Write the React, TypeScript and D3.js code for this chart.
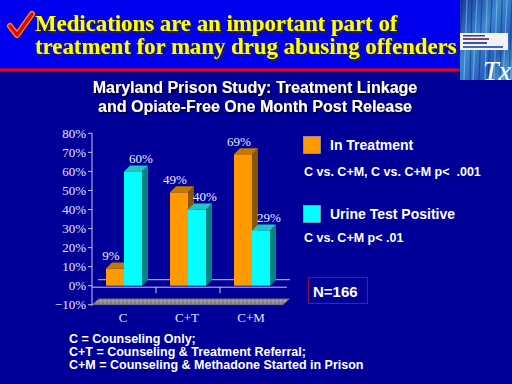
import React from 'react';
import * as d3 from 'd3';

const categories = ['C', 'C+T', 'C+M'];
const seriesNames = ['In Treatment', 'Urine Test Positive'];
const inTreatment = [0.09, 0.49, 0.69];
const urinePositive = [0.6, 0.4, 0.29];
const yTicks = [-0.1, 0, 0.1, 0.2, 0.3, 0.4, 0.5, 0.6, 0.7, 0.8];
const titleLines = ['Medications are an important part of', 'treatment for many drug abusing offenders'];
const chartTitle = ['Maryland Prison Study: Treatment Linkage', 'and Opiate-Free One Month Post Release'];
const legendNotes = ['C vs. C+M, C vs. C+M p<  .001', 'C vs. C+M p< .01'];
const footnotes = ['C = Counseling Only;', 'C+T = Counseling & Treatment Referral;', 'C+M = Counseling & Methadone Started in Prison'];

const colors = [
  { front: '#ff9900', top: '#c27a00', side: '#8a5500' },
  { front: '#00ffff', top: '#22c4c4', side: '#008484' },
];

const DX = 6;
const DY = -6;
const sans = 'Liberation Sans, Arial, sans-serif';
const serif = 'Liberation Serif, Times New Roman, serif';

const App: React.FC = () => {
  const y = d3.scaleLinear().domain([-0.1, 0.8]).range([304.75, 133.3]);
  const x0 = d3.scaleBand<string>().domain(categories).range([92, 284]);
  const x1 = d3.scaleBand<string>().domain(seriesNames).range([0, x0.bandwidth()]).paddingOuter(0.778);
  const values = [inTreatment, urinePositive];
  const fmt = d3.format('.0%');

  const bars = categories.flatMap((c, ci) =>
    seriesNames.map((s, si) => ({ c, s, si, v: values[si][ci] }))
  );

  const floorY = y(-0.1);
  const zeroY = y(0);

  return (
    <svg width={512} height={384} style={{ position: 'absolute', left: 0, top: 0 }}>
      <defs>
        <linearGradient id="img" x1="0" y1="0" x2="1" y2="1">
          <stop offset="0" stopColor="#1a3aa0" />
          <stop offset="0.4" stopColor="#3f86cf" />
          <stop offset="0.7" stopColor="#2a5fb8" />
          <stop offset="1" stopColor="#5ab0dc" />
        </linearGradient>
        <pattern id="grain" width="4" height="4" patternUnits="userSpaceOnUse">
          <rect width="4" height="4" fill="#8e8e8e" />
          <rect width="2" height="2" fill="#a0a0a0" />
          <rect x="2" y="2" width="2" height="2" fill="#7c7c7c" />
        </pattern>
        <filter id="shadowBig" x="-5%" y="-20%" width="110%" height="150%">
          <feDropShadow dx="2" dy="2" stdDeviation="0.3" floodColor="#202040" floodOpacity="1" />
        </filter>
        <filter id="shadowSmall" x="-5%" y="-20%" width="110%" height="150%">
          <feDropShadow dx="1.5" dy="1.5" stdDeviation="0.3" floodColor="#000033" floodOpacity="1" />
        </filter>
      </defs>
      <rect width={512} height={384} fill="#000099" />
      <rect width={512} height={69} fill="#0000ee" />
      <rect y={68.5} width={460} height={3} fill="#ff0000" />

      {/* cover image, top right */}
      <rect x={460} y={0} width={52} height={80} fill="url(#img)" />
      {d3.range(0, 52, 5).map((o, i) => (
        <line key={i} x1={462 + o} y1={0} x2={458 + o + (i % 3)} y2={80}
          stroke={i % 2 ? '#7fd6ee' : '#0d2a80'} strokeWidth={1.2} opacity={0.55} />
      ))}
      <rect x={460} y={33} width={48} height={17} fill="#f2f2f2" />
      <rect x={463} y={35} width={22} height={1.5} fill="#2244aa" />
      <rect x={463} y={38} width={26} height={2} fill="#8a4060" />
      <rect x={463} y={42} width={24} height={2} fill="#3355aa" />
      <rect x={463} y={46} width={40} height={2} fill="#4466bb" />
      <text x={483} y={80} fill="#ffffff" fontFamily={serif} fontStyle="italic" fontSize={28}>Tx</text>

      {/* checkmark */}
      <path d="M10,26 L17,35 L32,14" fill="none" stroke="#ff9a00" strokeWidth={6} strokeLinecap="round" strokeLinejoin="round" />
      <path d="M10,26 L17,35 L32,14" fill="none" stroke="#ee0000" strokeWidth={3.5} strokeLinecap="round" strokeLinejoin="round" />

      {titleLines.map((t, i) => (
        <text key={t} x={35} y={31 + i * 23} fill="#ffff00" fontFamily={serif} fontWeight="bold"
          fontSize={22.8} filter="url(#shadowBig)">{t}</text>
      ))}

      {chartTitle.map((t, i) => (
        <text key={t} x={255} y={93 + i * 18.5} fill="#ffffff" fontFamily={sans} fontWeight="bold"
          fontSize={16} textAnchor="middle" filter="url(#shadowSmall)">{t}</text>
      ))}

      {/* floor */}
      <polygon
        points={`92,${floorY} 283,${floorY} ${283 + DX + 0.5},${floorY + DY} ${99},${floorY + DY}`}
        fill="url(#grain)" stroke="#6a6a6a" strokeWidth={0.5} />

      {/* gridlines and axes */}
      <line x1={92 + DX} x2={284 + DX} y1={zeroY + DY} y2={zeroY + DY} stroke="#c8c8e8" strokeWidth={1} />
      <line x1={92} x2={287} y1={zeroY + 1.5} y2={zeroY + 1.5} stroke="#c8c8e8" strokeWidth={1} />
      <line x1={92} x2={92} y1={y(0.8)} y2={floorY + 1} stroke="#c8c8e8" strokeWidth={1} />
      {yTicks.map(t => (
        <g key={t}>
          <line x1={88} x2={92} y1={y(t)} y2={y(t)} stroke="#c8c8e8" />
          <text x={86} y={y(t) + 4.5} textAnchor="end" fill="#e4e4ff" fontFamily={serif} fontSize={13}>{fmt(t)}</text>
        </g>
      ))}
      {categories.slice(1).map(c => (
        <line key={c} x1={x0(c)!} x2={x0(c)!} y1={zeroY + 1.5} y2={zeroY + 7.5} stroke="#c8c8e8" />
      ))}
      {categories.map(c => (
        <text key={c} x={x0(c)! + x0.bandwidth() / 2 - 1} y={322} textAnchor="middle"
          fill="#e4e4ff" fontFamily={serif} fontSize={13}>{c}</text>
      ))}

      {/* bars */}
      {bars.map(b => {
        const bx = x0(b.c)! + x1(b.s)!;
        const w = x1.bandwidth();
        const top = y(b.v);
        const col = colors[b.si];
        return (
          <g key={b.c + b.s}>
            <polygon points={`${bx + w},${top} ${bx + w + DX},${top + DY} ${bx + w + DX},${zeroY + DY} ${bx + w},${zeroY}`} fill={col.side} />
            <polygon points={`${bx},${top} ${bx + DX},${top + DY} ${bx + w + DX},${top + DY} ${bx + w},${top}`} fill={col.top} />
            <rect x={bx} y={top} width={w} height={zeroY - top} fill={col.front} />
          </g>
        );
      })}
      {bars.map(b => {
        const bx = x0(b.c)! + x1(b.s)!;
        const w = x1.bandwidth();
        const off = b.si === 0 ? -4 : 8;
        return (
          <text key={'l' + b.c + b.s} x={bx + w / 2 + off} y={y(b.v) + DY - 2.5} textAnchor="middle"
            fill="#ececff" fontFamily={serif} fontSize={13}>{fmt(b.v)}</text>
        );
      })}

      {/* legend */}
      {seriesNames.map((s, i) => (
        <g key={s} fontFamily={sans} fontWeight="bold" fill="#ffffff">
          <rect x={303.5} y={136.5 + i * 69} width={17} height={17} fill={colors[i].front} stroke="#b0b0c0" strokeWidth={0.6} />
          <text x={330} y={149.5 + i * 69} fontSize={14}>{s}</text>
          <text x={304} y={175.5 + i * 66} fontSize={12.5} style={{ whiteSpace: 'pre' }}>{legendNotes[i]}</text>
        </g>
      ))}
      <rect x={308.5} y={277.5} width={59} height={26} fill="none" stroke="#8a1040" strokeWidth={1} />
      <text x={313} y={297} fill="#ffffff" fontFamily={sans} fontWeight="bold" fontSize={15}>N=166</text>

      {footnotes.map((f, i) => (
        <text key={f} x={69} y={342.5 + i * 13.3} fill="#ffffff" fontFamily={sans} fontWeight="bold" fontSize={12.5}>{f}</text>
      ))}
    </svg>
  );
};

export default App;
